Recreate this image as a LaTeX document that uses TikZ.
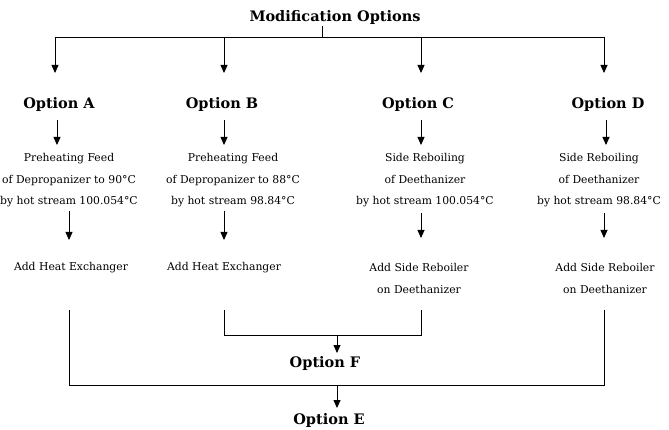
\documentclass[tikz,border=0pt]{standalone}
\usepackage{fontspec}
\setmainfont{DejaVu Serif}
\usetikzlibrary{arrows.meta}
\begin{document}
\begin{tikzpicture}[x=1pt,y=-1pt,line width=0.8pt,
  head/.style={font=\bfseries\fontsize{14.5}{16}\selectfont, inner sep=1pt},
  txt/.style={font=\fontsize{10.8}{21.5}\selectfont, align=center, inner sep=1pt},
  arr/.style={-{Triangle[width=7pt,length=8pt]}}]
\useasboundingbox (0,0) rectangle (669,430);
\node[head] (mod) at (335,18){Modification Options};
\coordinate (tick) at (322,37);
\coordinate (a0) at (55,37);
\coordinate (a1) at (55,73);
\coordinate (b0) at (224,37);
\coordinate (b1) at (224,73);
\coordinate (c0) at (421,37);
\coordinate (c1) at (421,73);
\coordinate (d0) at (604,37);
\coordinate (d1) at (604,73);
\draw[](mod.south -| tick) -- (tick);
\draw[](a0) -- (d0);
\draw[arr](a0) -- (a1);
\draw[arr](b0) -- (b1);
\draw[arr](c0) -- (c1);
\draw[arr](d0) -- (d1);
% options
\node[head] (optA) at (59,105){Option A};
\node[head] (optB) at (222,105){Option B};
\node[head] (optC) at (418,105){Option C};
\node[head] (optD) at (608,105){Option D};
\coordinate (a2) at (57,120);
\coordinate (a3) at (57,145);
\coordinate (b2) at (224,120);
\coordinate (b3) at (224,145);
\coordinate (c2) at (421,120);
\coordinate (c3) at (421,145);
\coordinate (d2) at (606,120);
\coordinate (d3) at (606,145);
\draw[arr](a2) -- (a3);
\draw[arr](b2) -- (b3);
\draw[arr](c2) -- (c3);
\draw[arr](d2) -- (d3);
\node[txt] (txtA) at (69,180.5){Preheating Feed\\of Depropanizer to 90°C\\by hot stream 100.054°C};
\node[txt] (txtB) at (233,180.5){Preheating Feed\\of Depropanizer to 88°C\\by hot stream 98.84°C};
\node[txt] (txtC) at (425,180.5){Side Reboiling\\of Deethanizer\\by hot stream 100.054°C};
\node[txt] (txtD) at (599,180.5){Side Reboiling\\of Deethanizer\\by hot stream 98.84°C};
\coordinate (a4) at (69,211);
\coordinate (a5) at (69,240);
\coordinate (b4) at (224,211);
\coordinate (b5) at (224,240);
\coordinate (c4) at (421,213);
\coordinate (c5) at (421,238);
\coordinate (d4) at (604,213);
\coordinate (d5) at (604,238);
\draw[arr](a4) -- (a5);
\draw[arr](b4) -- (b5);
\draw[arr](c4) -- (c5);
\draw[arr](d4) -- (d5);
\node[txt] (addA) at (71,268){Add Heat Exchanger};
\node[txt] (addB) at (224,268){Add Heat Exchanger};
\node[txt] (addC) at (419,278.5){Add Side Reboiler\\on Deethanizer};
\node[txt] (addD) at (605,278.5){Add Side Reboiler\\on Deethanizer};
% merging
\coordinate (a6) at (69,310);
\coordinate (b6) at (224,310);
\coordinate (c6) at (421,310);
\coordinate (d6) at (604,310);
\coordinate (fL) at (224,335);
\coordinate (fR) at (421,335);
\coordinate (fJ) at (337,335);
\coordinate (fT) at (337,353);
\coordinate (eL) at (69,385);
\coordinate (eR) at (604,385);
\coordinate (eJ) at (337,385);
\coordinate (eT) at (337,408);
\draw[](b6) -- (fL) -- (fR) -- (c6);
\draw[](a6) -- (eL) -- (eR) -- (d6);
\draw[arr](fJ) -- (fT);
\draw[arr](eJ) -- (eT);
\node[head] (optF) at (325,363){Option F};
\node[head] (optE) at (329,420){Option E};
\end{tikzpicture}
\end{document}
